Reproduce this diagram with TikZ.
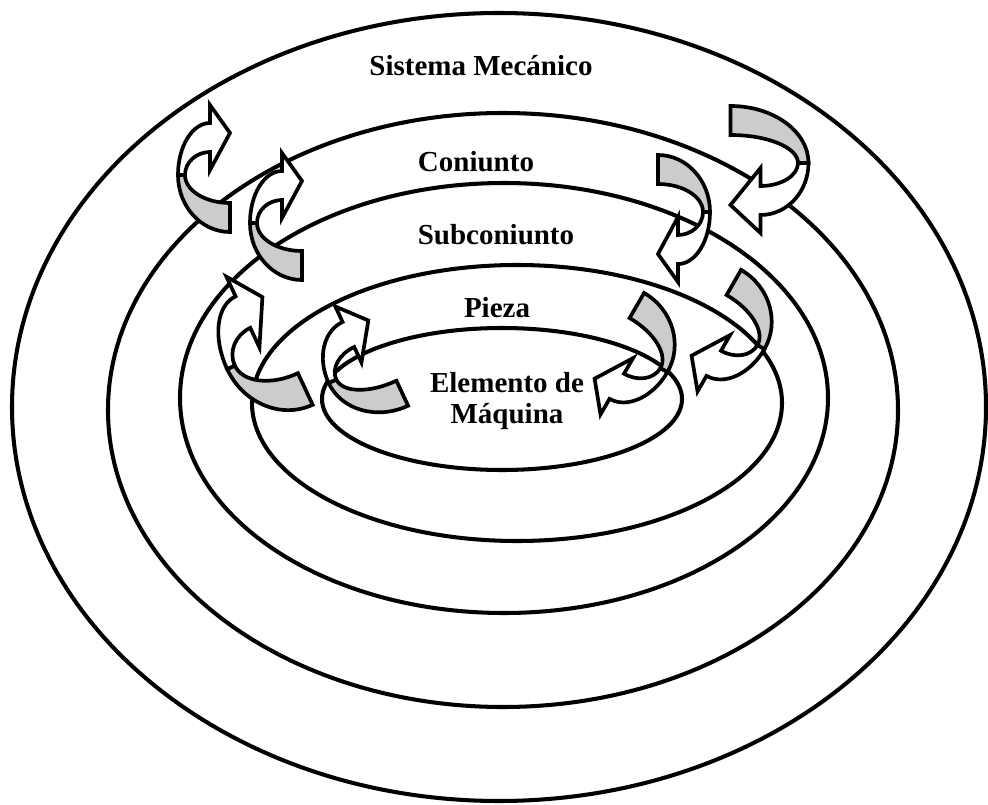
\documentclass[tikz,border=0pt]{standalone}
\usepackage{fontspec}
\setmainfont{Liberation Serif}

\begin{document}
\begin{tikzpicture}[x=0.2mm,y=-0.2mm,
  ring/.style={line width=2.3pt},
  lvl/.style={font=\fontsize{16.5}{17.6}\selectfont\bfseries,inner sep=0pt},
  ribbonback/.style={draw,fill=black!20,line width=2.1pt},
  ribbonfront/.style={draw,fill=white,line width=2.1pt},
  ribbon/.pic={
    \filldraw[ribbonback] (-27,5)
      arc[start angle=180,end angle=90,x radius=52,y radius=57]
      -- (25,33) arc[start angle=90,end angle=180,x radius=45,y radius=28]
      -- cycle;
    \filldraw[ribbonfront] (-27,5)
      arc[start angle=180,end angle=270,x radius=32,y radius=52]
      -- (5,-65) -- (25,-37) -- (5,0) -- (5,-18)
      arc[start angle=270,end angle=180,x radius=25,y radius=23]
      -- cycle;
  }]
  \useasboundingbox (0,0) rectangle (988,805);

  % levels, outside in
  \draw[ring] (499,407) ellipse [x radius=487,y radius=394];
  \draw[ring] (503,410) ellipse [x radius=395,y radius=297];
  \draw[ring] (504,398) ellipse [x radius=324,y radius=215];
  \draw[ring] (517,403) ellipse [x radius=265,y radius=138];
  \draw[ring] (502,399) ellipse [x radius=180,y radius=71];

  \node[lvl,anchor=base] (sistema) at (481,76) {Sistema Mecánico};
  \node[lvl,anchor=base] (conjunto) at (476,172) {Coniunto};
  \node[lvl,anchor=base] (subconjunto) at (496,245) {Subconiunto};
  \node[lvl,anchor=base] (pieza) at (497,317) {Pieza};
  \node[lvl,align=center] (elemento) at (507,401) {Elemento de\\Máquina};

  % going out on the left
  \pic at (205,170) {ribbon};
  \pic at (277,218) {ribbon};
  \pic[rotate=25,scale=1.2] at (254,350) {ribbon};
  \pic[rotate=25,xscale=1.2,yscale=0.95] at (356,365) {ribbon};
  % coming in on the right
  \pic[rotate=180,xscale=1.5] at (768,168) {ribbon};
  \pic[rotate=180] at (683,217) {ribbon};
  \pic[rotate=150,xscale=1.15] at (735,338) {ribbon};
  \pic[rotate=150,xscale=1.15] at (638,361) {ribbon};
\end{tikzpicture}
\end{document}
